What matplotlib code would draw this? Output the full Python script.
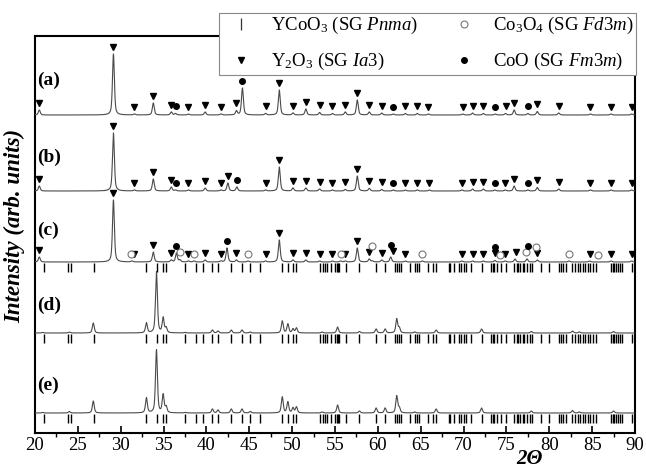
import numpy as np
import matplotlib
matplotlib.use("Agg")
import matplotlib.pyplot as plt
from matplotlib.lines import Line2D

plt.rcParams['font.family'] = ['Liberation Serif', 'DejaVu Serif']
plt.rcParams['mathtext.fontset'] = 'custom'
plt.rcParams['mathtext.rm'] = 'Liberation Serif'
plt.rcParams['mathtext.it'] = 'Liberation Serif:italic'
plt.rcParams['mathtext.bf'] = 'Liberation Serif:bold'

# ---------------- data: peak positions (2-theta, deg) and heights ----------------
peaks_a = [20.5, 29.15, 31.6, 33.8, 35.9, 36.4, 37.9, 39.85, 41.7, 43.5, 44.2, 46.9,
           48.5, 50.1, 51.6, 53.2, 54.7, 56.2, 57.6, 59.0, 60.45, 61.8, 63.2, 64.6,
           65.9, 69.9, 71.05, 72.3, 73.7, 74.9, 75.9, 77.5, 78.6, 81.1, 84.8, 87.2, 89.6]
heights_a = [5, 61, 1, 12, 3, 1.5, 1, 3, 1, 4, 27, 1.5,
             25, 2, 6, 2.5, 1.5, 3, 15, 3, 2, 1, 1.5, 1.5,
             1, 1, 2, 1.5, 1, 1.5, 5, 1.5, 3.5, 2, 1, 1, 1]

peaks_b = [20.5, 29.15, 31.6, 33.8, 35.9, 36.4, 37.9, 39.85, 41.7, 42.5, 43.55, 46.9,
           48.5, 50.1, 51.6, 53.2, 54.7, 56.2, 57.6, 59.0, 60.45, 61.8, 63.2, 64.6,
           66.0, 69.8, 71.05, 72.3, 73.65, 74.85, 75.9, 77.5, 78.6, 81.1, 84.8, 87.2, 89.6]
heights_b = [5, 58, 1, 12, 4, 1, 1, 3, 1, 8, 4, 1,
             24, 3, 3, 2, 1, 1.5, 15, 2.5, 1.5, 1, 1, 1,
             1, 1, 2, 2, 1, 1, 5, 1, 3.5, 2, 1, 1, 1]

peaks_c = [20.5, 29.15, 31.3, 33.8, 35.9, 36.5, 36.9, 37.9, 38.55, 39.85, 41.7, 42.4,
           43.5, 44.85, 46.9, 48.5, 50.1, 51.6, 53.2, 54.7, 55.65, 56.2, 57.6, 59.0,
           59.35, 60.45, 61.5, 63.2, 65.2, 69.8, 71.05, 72.3, 73.65, 74.85, 76.0, 77.4,
           78.6, 82.3, 84.7, 87.2, 89.6]
heights_c = [5, 62, 1, 10, 2, 9, 2, 1, 1, 2, 1, 14,
             2, 1, 1, 22, 2, 2, 1, 1, 1, 1, 14, 3,
             1, 2, 5, 1, 1, 1, 1, 1, 1.5, 1, 3, 3,
             2, 1, 1, 1, 1]

peaks_ycoo3 = [20.9, 24.0, 26.8, 33.0, 34.17, 34.95, 35.3, 37.5, 40.7, 41.35, 42.9,
               44.15, 45.1, 48.85, 49.5, 50.1, 50.5, 53.5, 55.3, 57.85, 59.8, 60.85,
               62.2, 62.5, 64.3, 66.8, 72.1, 77.9, 82.7, 83.5, 87.5]
heights_d = [0.5, 1, 10, 10, 61, 15, 5, 0.5, 3, 2, 3,
             3, 1, 12, 9, 4, 5, 1, 6, 1.5, 4, 4,
             14, 5, 1, 3, 4, 1.5, 2, 1, 1.5]
heights_e = [0.5, 1.5, 12, 15, 63, 18, 6, 0.5, 4, 3, 4,
             4, 1.5, 16, 11, 5, 6, 1, 8, 2, 5, 5,
             17, 5, 1, 4, 5, 2, 2.5, 1, 2]

# phase markers (2-theta positions)
y2o3_a = [20.5, 29.15, 31.6, 33.8, 35.9, 37.9, 39.85, 41.7, 43.5, 46.9, 48.5, 50.1,
          51.6, 53.2, 54.7, 56.2, 57.6, 59.0, 60.45, 63.2, 64.6, 65.9, 69.9, 71.05,
          72.3, 74.9, 75.9, 78.6, 81.1, 84.8, 87.2, 89.6]
coo_a = [36.4, 44.2, 61.8, 73.7, 77.5]
y2o3_b = [20.5, 29.15, 31.6, 33.8, 35.9, 37.9, 39.85, 41.7, 42.5, 46.9, 48.5, 50.1,
          51.6, 53.2, 54.7, 56.2, 57.6, 59.0, 60.45, 63.2, 64.6, 66.0, 69.8, 71.05,
          72.3, 74.85, 75.9, 78.6, 81.1, 84.8, 87.2, 89.6]
coo_b = [36.4, 43.55, 61.8, 73.65, 77.5]
y2o3_c = [20.5, 29.15, 31.6, 33.8, 35.9, 37.9, 39.85, 41.7, 43.5, 46.9, 48.5, 50.1,
          51.6, 53.2, 54.7, 56.2, 57.6, 59.0, 60.45, 61.75, 63.2, 69.8, 71.05, 72.3,
          73.65, 74.85, 76.1, 78.6, 84.7, 87.2, 89.6]
coo_c = [36.5, 42.4, 61.5, 73.65, 77.5]
co3o4_c = [31.25, 36.9, 38.55, 44.85, 55.65, 59.3, 65.2, 74.2, 77.3, 78.4, 82.3, 85.7]

# YCoO3 (Pnma) reference reflections
ref_ycoo3 = [21.1, 23.85, 24.15, 26.85, 33.0, 34.2, 34.95, 35.25, 37.5, 38.8, 39.6,
             40.7, 41.35, 42.9, 44.15, 45.1, 46.3, 48.85, 49.5, 50.1, 50.5, 53.3, 53.55,
             53.8, 54.05, 54.55, 55.0, 55.2, 55.35, 55.5, 56.3, 57.85, 59.8, 60.85, 62.0,
             62.2, 62.45, 62.7, 63.7, 64.3, 64.55, 64.85, 65.8, 66.4, 66.8, 68.3, 68.45,
             68.9, 69.5, 69.7, 70.0, 70.3, 70.9, 72.1, 73.2, 73.4, 73.6, 73.9, 74.35,
             74.9, 75.9, 76.2, 76.4, 76.6, 76.9, 77.1, 77.4, 77.7, 78.0, 79.0, 80.0,
             81.1, 81.4, 81.6, 81.9, 82.7, 83.0, 83.3, 83.6, 83.9, 84.2, 84.5, 84.8,
             85.1, 85.4, 87.2, 87.4, 87.6, 87.8, 88.0, 88.3, 88.5, 89.7]

labels = ['(a)', '(b)', '(c)', '(d)', '(e)']


def profile(x, centres, amps, w=0.26, eta=0.55):
    y = np.zeros_like(x)
    for c, a in zip(centres, amps):
        t = (x - c) / w
        y += a * (eta / (1 + 4 * t ** 2) + (1 - eta) * np.exp(-4 * np.log(2) * t ** 2))
    return y


# ---------------- figure ----------------
fig = plt.figure(figsize=(6.46, 4.68), dpi=100)
ax = fig.add_axes([35 / 646, 1 - 433 / 468, 600 / 646, 397 / 468])
ax.set_xlim(20, 90)
ax.set_ylim(0, 397)

x = np.linspace(20, 90, 14001)
offsets = [318, 242, 171, 100, 20]
traces = [(peaks_a, heights_a), (peaks_b, heights_b), (peaks_c, heights_c),
          (peaks_ycoo3, heights_d), (peaks_ycoo3, heights_e)]
curves = []
for (pk, ht), off in zip(traces, offsets):
    y = off + profile(x, pk, ht)
    curves.append(y)
    ax.plot(x, y, color='#4a4a4a', lw=0.8, zorder=3)


def place_markers(curve, groups):
    placed = []
    for pos_list, style in groups:
        for p in pos_list:
            m = (x >= p - 0.2) & (x <= p + 0.2)
            yy = curve[m].max() + 7
            for (pp, py) in placed:
                if abs(pp - p) < 0.3 and abs(py - yy) < 6:
                    yy = py + 6
            placed.append((p, yy))
            ax.plot([p], [yy], linestyle='none', zorder=4, **style)


tri = dict(marker='v', ms=4.2, color='black', mec='black')
dot = dict(marker='o', ms=4.0, color='black', mec='black')
ring = dict(marker='o', ms=5.0, mfc='white', mec='#777777', mew=0.8)

place_markers(curves[0], [(y2o3_a, tri), (coo_a, dot)])
place_markers(curves[1], [(y2o3_b, tri), (coo_b, dot)])
place_markers(curves[2], [(y2o3_c, tri), (co3o4_c, ring), (coo_c, dot)])

# YCoO3 reference ticks below traces (c), (d), (e)
for off in offsets[2:]:
    ax.vlines(ref_ycoo3, off - 10, off - 1, colors='black', lw=1.0, zorder=3)

# panel labels
label_y = [353, 276, 203, 128, 48]
for lab, ly in zip(labels, label_y):
    ax.text(20.25, ly, lab, fontsize=14, fontweight='bold', va='center', ha='left')

# axes styling
for s in ax.spines.values():
    s.set_linewidth(1.5)
ax.set_yticks([])
ax.set_xticks(np.arange(20, 91, 5))
ax.set_xticks(np.arange(22.5, 90, 5), minor=True)
ax.tick_params(axis='x', which='major', direction='in', length=5, width=1.2,
               labelsize=13.5, pad=3)
ax.tick_params(axis='x', which='minor', direction='out', length=3, width=1.0)

fig.text(15 / 646, 1 - 226 / 468, 'Intensity (arb. units)', rotation=90,
         fontsize=16.5, fontweight='bold', fontstyle='italic', ha='center', va='center')
fig.text(529 / 646, 9 / 468, '2Θ', fontsize=15, fontweight='bold',
         fontstyle='italic', ha='center', va='center')

# legend
handles = [
    Line2D([], [], linestyle='none', marker='|', ms=9, mew=0.9, color='#333333'),
    Line2D([], [], linestyle='none', **tri),
    Line2D([], [], linestyle='none', **ring),
    Line2D([], [], linestyle='none', **dot),
]
names = ['YCoO$_3$ (SG $\\mathit{Pnma}$)', 'Y$_2$O$_3$ (SG $\\mathit{Ia3}$)',
         'Co$_3$O$_4$ (SG $\\mathit{Fd3m}$)', 'CoO (SG $\\mathit{Fm3m}$)']
leg = ax.legend(handles, names, ncol=2, loc='upper right',
                bbox_to_anchor=(636 / 646, 1 - 13 / 468), bbox_transform=fig.transFigure,
                fontsize=13.5, frameon=True, fancybox=False, framealpha=1,
                edgecolor='#888888', borderpad=0.12, labelspacing=0.8,
                handlelength=2.2, handletextpad=0.45, columnspacing=1.4,
                borderaxespad=0)
leg.get_frame().set_linewidth(0.8)
leg.set_zorder(10)

fig.savefig('out.png', dpi=100)
